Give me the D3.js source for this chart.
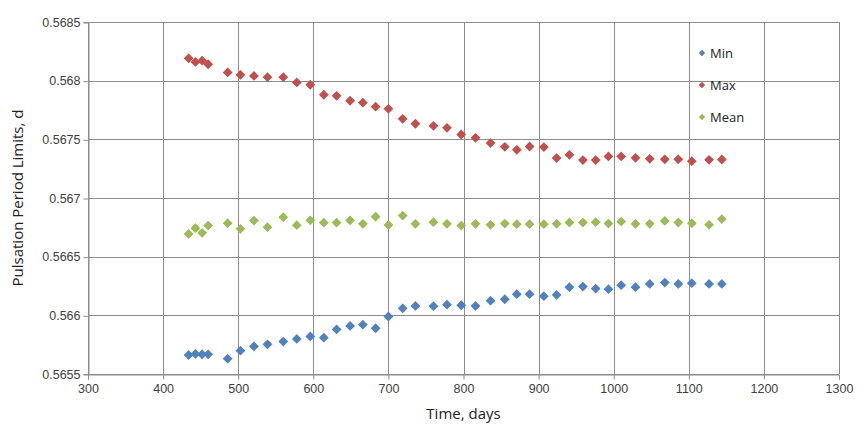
<!DOCTYPE html>
<html>
<head>
<meta charset="utf-8">
<script src="https://cdn.jsdelivr.net/npm/d3@7.9.0/dist/d3.min.js"></script>
<style>
  body { margin: 0; background: #fff; }
  svg { display: block; font-family: "Open Sans", sans-serif; }
</style>
</head>
<body>
<div id="chart"></div>
<script>
// data
const days = [434, 443, 452, 460, 486, 503, 521, 539, 560, 578,
  596, 614, 631, 649, 666, 683, 700, 719, 736,
  760, 778, 797, 816, 836, 855, 871, 888, 907, 924, 941, 959, 976, 993,
  1010, 1029, 1048, 1068, 1086, 1104, 1127, 1144];

const minVals = [0.565662, 0.565671, 0.565668, 0.565668, 0.565631, 0.565699, 0.565736, 0.565753, 0.565776, 0.565799,
  0.56582, 0.56581, 0.56588, 0.56591, 0.56592, 0.56589, 0.56599, 0.56606, 0.56608,
  0.566078, 0.566091, 0.566086, 0.56608, 0.566125, 0.566137, 0.56618, 0.56618, 0.566163, 0.566174, 0.56624,
  0.566245, 0.566228, 0.566223, 0.566257, 0.56624, 0.566268, 0.566279, 0.566268, 0.566274, 0.566268, 0.566268];

const maxVals = [0.56819, 0.56816, 0.56817, 0.56814, 0.56807, 0.56805, 0.56804, 0.56803, 0.56803, 0.567985,
  0.567965, 0.56788, 0.567871, 0.567829, 0.567812, 0.567778, 0.56776, 0.567675, 0.567633,
  0.567615, 0.567598, 0.567541, 0.567513, 0.567468, 0.567436, 0.567411, 0.567439, 0.567434, 0.56734, 0.567368,
  0.567323, 0.567323, 0.567354, 0.567354, 0.567342, 0.567334, 0.56733, 0.56733, 0.567314, 0.567325, 0.567328];

const meanVals = [0.566694, 0.566743, 0.566703, 0.566765, 0.566785, 0.566737, 0.566808, 0.566751, 0.566837, 0.566768,
  0.56681, 0.56679, 0.56679, 0.56681, 0.56678, 0.56684, 0.56677, 0.56685, 0.56678,
  0.566794, 0.56678, 0.566765, 0.56678, 0.566771, 0.566782, 0.566777, 0.566777, 0.566777, 0.56678, 0.566791,
  0.566791, 0.566794, 0.566782, 0.566799, 0.56678, 0.56678, 0.566805, 0.566791, 0.566785, 0.566771, 0.56682];

const seriesNames = ["Min", "Max", "Mean"];
const seriesColors = ["#4F81BD", "#C0504D", "#9BBB59"];

const xTicks = [300, 400, 500, 600, 700, 800, 900, 1000, 1100, 1200, 1300];
const yTicks = [0.5655, 0.566, 0.5665, 0.567, 0.5675, 0.568, 0.5685];

// config
const width = 866,
  height = 436;
const margin = { top: 22, right: 27, bottom: 62, left: 88 };

const svg = d3
  .select("#chart")
  .append("svg")
  .attr("width", width)
  .attr("height", height);

const x = d3
  .scaleLinear()
  .domain([300, 1300])
  .range([margin.left, width - margin.right]);

const y = d3
  .scaleLinear()
  .domain([0.5655, 0.5685])
  .range([height - margin.bottom, margin.top]);

const gridColor = "#8c8c8c";

// grid
svg
  .append("g")
  .selectAll("line")
  .data(xTicks)
  .join("line")
  .attr("x1", (d) => Math.round(x(d)) + 0.5)
  .attr("x2", (d) => Math.round(x(d)) + 0.5)
  .attr("y1", y(0.5685))
  .attr("y2", y(0.5655))
  .attr("stroke", gridColor);

svg
  .append("g")
  .selectAll("line")
  .data(yTicks)
  .join("line")
  .attr("x1", x(300))
  .attr("x2", x(1300))
  .attr("y1", (d) => Math.round(y(d)) + 0.5)
  .attr("y2", (d) => Math.round(y(d)) + 0.5)
  .attr("stroke", gridColor);

// axes
const xAxis = svg
  .append("g")
  .attr("transform", `translate(0,${Math.round(y(0.5655)) + 0.5})`)
  .call(d3.axisBottom(x).tickValues(xTicks).tickSize(5).tickPadding(5).tickFormat(d3.format("d")));

const yAxis = svg
  .append("g")
  .attr("transform", `translate(${Math.round(x(300)) + 0.5},0)`)
  .call(d3.axisLeft(y).tickValues(yTicks).tickSize(5).tickPadding(3).tickFormat((d) => String(+d.toFixed(4))));

[xAxis, yAxis].forEach((a) => {
  a.select(".domain").attr("stroke", gridColor);
  a.selectAll(".tick line").attr("stroke", gridColor);
  a.selectAll(".tick text")
    .attr("fill", "#404040")
    .style("font-size", "12.5px");
});
yAxis.selectAll(".tick line").attr("transform", "translate(0,0.5)");

// points
const diamond = d3.symbol().type(d3.symbolSquare).size(48);
const all = [minVals, maxVals, meanVals];

all.forEach((vals, i) => {
  svg
    .append("g")
    .selectAll("path")
    .data(vals)
    .join("path")
    .attr("d", diamond)
    .attr("transform", (d, j) => `translate(${x(days[j])},${y(d)}) rotate(45)`)
    .attr("fill", seriesColors[i]);
});

// legend
const legend = svg
  .append("g")
  .attr("transform", "translate(702,53)");

seriesNames.forEach((name, i) => {
  const row = legend.append("g").attr("transform", `translate(0,${i * 32})`);
  row
    .append("path")
    .attr("d", d3.symbol().type(d3.symbolSquare).size(20))
    .attr("transform", "rotate(45)")
    .attr("fill", seriesColors[i]);
  row
    .append("text")
    .attr("x", 8)
    .attr("y", 5)
    .style("font-size", "13px")
    .attr("fill", "#222")
    .text(name);
});

// axis titles
svg
  .append("text")
  .attr("x", (x(300) + x(1300)) / 2)
  .attr("y", 419)
  .attr("text-anchor", "middle")
  .style("font-size", "15px")
  .attr("fill", "#222")
  .text("Time, days");

svg
  .append("text")
  .attr("transform", `translate(23,${(y(0.5655) + y(0.5685)) / 2}) rotate(-90)`)
  .attr("text-anchor", "middle")
  .style("font-size", "15px")
  .attr("fill", "#222")
  .text("Pulsation Period Limits, d");
</script>
</body>
</html>
